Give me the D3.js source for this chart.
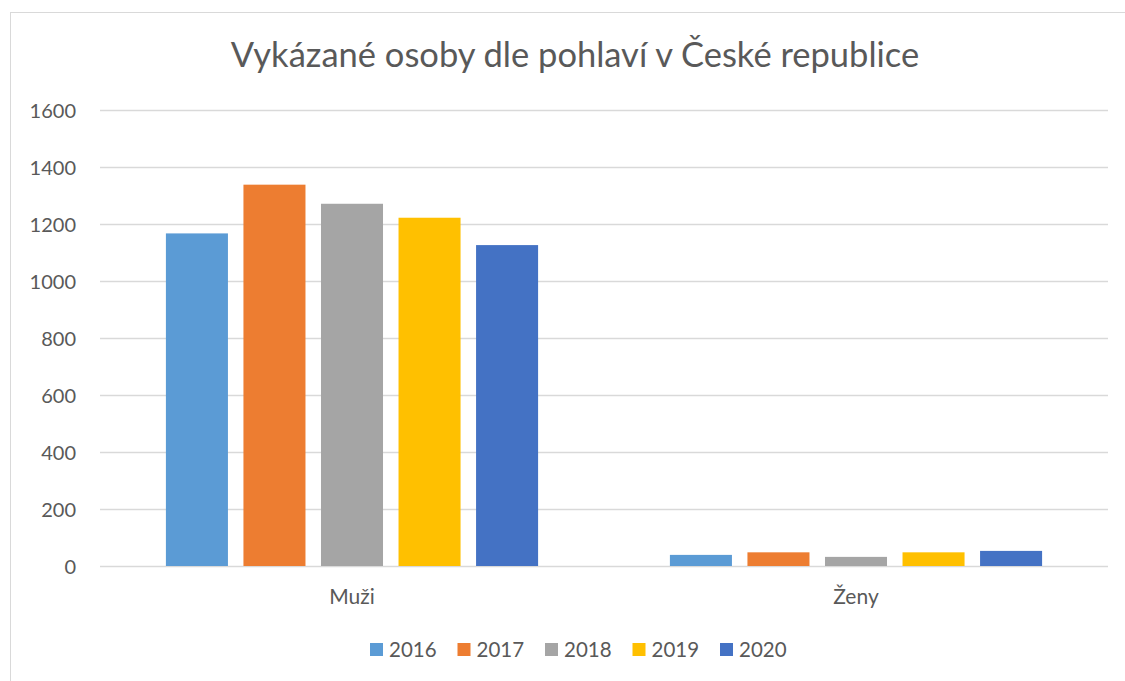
<!DOCTYPE html>
<html>
<head>
<meta charset="utf-8">
<script src="https://cdn.jsdelivr.net/npm/d3@7"></script>
<style>
  body { margin: 0; background: #fff; }
  text { font-family: Lato, "Open Sans", sans-serif; fill: #595959; }
</style>
</head>
<body>
<svg id="chart" width="1125" height="681"></svg>
<script>
// data
var categories = ["Muži", "Ženy"];
var years = ["2016", "2017", "2018", "2019", "2020"];
var colors = ["#5b9bd5", "#ed7d31", "#a5a5a5", "#ffc000", "#4472c4"];
var values2016 = [1167, 39];
var values2017 = [1338, 48];
var values2018 = [1271, 32];
var values2019 = [1222, 48];
var values2020 = [1126, 53];
var yTicks = [0, 200, 400, 600, 800, 1000, 1200, 1400, 1600];

var series = [values2016, values2017, values2018, values2019, values2020];

var svg = d3.select("#chart");

// chart frame
svg.append("rect")
  .attr("x", 10.5).attr("y", 12.5)
  .attr("width", 1130).attr("height", 700)
  .attr("fill", "none")
  .attr("stroke", "#d9d9d9");

var plotLeft = 100, plotRight = 1108, plotTop = 110, plotBottom = 566;

var x = d3.scaleBand().domain(categories).range([plotLeft, plotRight]);
var xi = d3.scaleBand().domain(years)
  .range([0, x.bandwidth()])
  .paddingInner(0.2)
  .paddingOuter(0.85);
var y = d3.scaleLinear().domain([0, 1600]).range([plotBottom, plotTop]);

// gridlines
svg.append("g").selectAll("line")
  .data(yTicks)
  .join("line")
  .attr("x1", plotLeft).attr("x2", plotRight)
  .attr("y1", d => Math.round(y(d)) + 0.5)
  .attr("y2", d => Math.round(y(d)) + 0.5)
  .attr("stroke", "#d9d9d9")
  .attr("stroke-width", 1.3);

// y tick labels
svg.append("g").selectAll("text")
  .data(yTicks)
  .join("text")
  .attr("x", 76)
  .attr("y", d => y(d) + 7.5)
  .attr("text-anchor", "end")
  .style("font-size", "20px")
  .text(d => d);

// bars
var groups = svg.append("g").selectAll("g")
  .data(years)
  .join("g")
  .attr("fill", (d, i) => colors[i]);

groups.selectAll("rect")
  .data((yr, i) => categories.map((c, j) => ({cat: c, year: yr, v: series[i][j]})))
  .join("rect")
  .attr("x", d => x(d.cat) + xi(d.year))
  .attr("width", xi.bandwidth())
  .attr("y", d => y(d.v))
  .attr("height", d => y(0) - y(d.v));

// category labels
svg.append("g").selectAll("text")
  .data(categories)
  .join("text")
  .attr("x", d => x(d) + x.bandwidth() / 2)
  .attr("y", 604)
  .attr("text-anchor", "middle")
  .style("font-size", "21px")
  .text(d => d);

// title
svg.append("text")
  .attr("x", 575)
  .attr("y", 67)
  .attr("text-anchor", "middle")
  .style("font-size", "34.5px")
  .text("Vykázané osoby dle pohlaví v České republice");

// legend
var legend = svg.append("g").selectAll("g")
  .data(years)
  .join("g")
  .attr("transform", (d, i) => "translate(" + (370 + i * 87.5) + ",0)");

legend.append("rect")
  .attr("x", 0).attr("y", 643)
  .attr("width", 13).attr("height", 13)
  .attr("fill", (d, i) => colors[i]);

legend.append("text")
  .attr("x", 19)
  .attr("y", 657)
  .style("font-size", "20.5px")
  .text(d => d);
</script>
</body>
</html>
